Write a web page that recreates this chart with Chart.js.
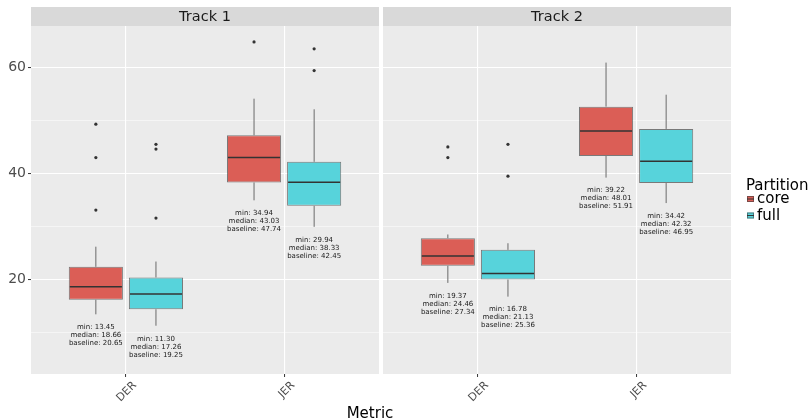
<!DOCTYPE html>
<html>
<head>
<meta charset="utf-8">
<script src="https://cdn.jsdelivr.net/npm/chart.js@4.4.1/dist/chart.umd.min.js"></script>
<style>
  body { margin: 0; background: #fff; }
  #wrap { position: relative; width: 810px; height: 420px; background: #fff; }
  canvas { position: absolute; top: 0; }
  #xtitle { position: absolute; left: 0; width: 740px; top: 404px; line-height: 18px;
            text-align: center; font: 15px "DejaVu Sans"; color: #000; }
</style>
</head>
<body>
<div id="wrap">
  <canvas id="track1" width="379" height="420" style="left:0"></canvas>
  <canvas id="track2" width="427" height="420" style="left:383px"></canvas>
  <div id="xtitle">Metric</div>
</div>
<script>
const categories = ['DER', 'JER'];
const partitions = ['core', 'full'];
const partitionColors = ['#DB5E56', '#57D3DB'];
const trackNames = ['Track 1', 'Track 2'];
const yTicks = [10, 20, 30, 40, 50, 60];
const yLabelled = [20, 40, 60];

// Track 1 - core
const t1CoreMin = [13.45, 34.94];
const t1CoreQ1 = [16.2, 38.3];
const t1CoreMedian = [18.66, 43.03];
const t1CoreQ3 = [22.4, 47.2];
const t1CoreMax = [26.2, 54.1];
const t1CoreBaseline = [20.65, 47.74];
const t1CoreOutliers = [[49.3, 43.0, 33.1], [64.8]];
// Track 1 - full
const t1FullMin = [11.30, 29.94];
const t1FullQ1 = [14.4, 33.9];
const t1FullMedian = [17.26, 38.33];
const t1FullQ3 = [20.4, 42.2];
const t1FullMax = [23.4, 52.1];
const t1FullBaseline = [19.25, 42.45];
const t1FullOutliers = [[45.5, 44.6, 31.6], [63.5, 59.4]];
// Track 2 - core
const t2CoreMin = [19.37, 39.22];
const t2CoreQ1 = [22.6, 43.3];
const t2CoreMedian = [24.46, 48.01];
const t2CoreQ3 = [27.8, 52.6];
const t2CoreMax = [28.5, 60.9];
const t2CoreBaseline = [27.34, 51.91];
const t2CoreOutliers = [[45.0, 43.0], []];
// Track 2 - full
const t2FullMin = [16.78, 34.42];
const t2FullQ1 = [20.0, 38.2];
const t2FullMedian = [21.13, 42.32];
const t2FullQ3 = [25.6, 48.4];
const t2FullMax = [26.85, 54.85];
const t2FullBaseline = [25.36, 46.95];
const t2FullOutliers = [[45.5, 39.5], []];

function stats(min, q1, med, q3, max, base, out) {
  return { min, q1, med, q3, max, base, out };
}
const trackStats = [
  [stats(t1CoreMin, t1CoreQ1, t1CoreMedian, t1CoreQ3, t1CoreMax, t1CoreBaseline, t1CoreOutliers),
   stats(t1FullMin, t1FullQ1, t1FullMedian, t1FullQ3, t1FullMax, t1FullBaseline, t1FullOutliers)],
  [stats(t2CoreMin, t2CoreQ1, t2CoreMedian, t2CoreQ3, t2CoreMax, t2CoreBaseline, t2CoreOutliers),
   stats(t2FullMin, t2FullQ1, t2FullMedian, t2FullQ3, t2FullMax, t2FullBaseline, t2FullOutliers)]
];

Chart.defaults.font.family = 'DejaVu Sans';
Chart.defaults.animation = false;

// grey panel + facet strip
const panelPlugin = {
  id: 'panel',
  beforeDraw(chart, args, opts) {
    const ctx = chart.ctx, a = chart.chartArea;
    ctx.save();
    ctx.fillStyle = '#EBEBEB';
    ctx.fillRect(a.left, a.top, a.right - a.left, a.bottom - a.top);
    ctx.fillStyle = '#D9D9D9';
    ctx.fillRect(a.left, 7, a.right - a.left, a.top - 7);
    ctx.fillStyle = '#1A1A1A';
    ctx.font = '14.5px "DejaVu Sans"';
    ctx.textAlign = 'center';
    ctx.textBaseline = 'middle';
    ctx.fillText(opts.title, (a.left + a.right) / 2, (7 + a.top) / 2 + 1);
    ctx.restore();
  }
};

// whiskers, medians, outliers and the min/median/baseline notes
const boxPlugin = {
  id: 'boxExtras',
  afterDatasetsDraw(chart, args, opts) {
    const ctx = chart.ctx, y = chart.scales.y;
    opts.stats.forEach((s, i) => {
      const meta = chart.getDatasetMeta(i);
      meta.data.forEach((bar, j) => {
        const x = bar.x, hw = bar.width / 2;
        ctx.save();
        ctx.strokeStyle = '#6A6A6A';
        ctx.lineWidth = 1;
        ctx.beginPath();
        ctx.moveTo(x, y.getPixelForValue(s.q3[j]));
        ctx.lineTo(x, y.getPixelForValue(s.max[j]));
        ctx.moveTo(x, y.getPixelForValue(s.q1[j]));
        ctx.lineTo(x, y.getPixelForValue(s.min[j]));
        ctx.stroke();

        const ym = y.getPixelForValue(s.med[j]);
        ctx.strokeStyle = '#333333';
        ctx.lineWidth = 1.5;
        ctx.beginPath();
        ctx.moveTo(x - hw + 1, ym);
        ctx.lineTo(x + hw - 1, ym);
        ctx.stroke();

        ctx.fillStyle = '#333333';
        s.out[j].forEach(v => {
          ctx.beginPath();
          ctx.arc(x, y.getPixelForValue(v), 1.6, 0, Math.PI * 2);
          ctx.fill();
        });

        ctx.fillStyle = '#1A1A1A';
        ctx.font = '7px "DejaVu Sans"';
        ctx.textAlign = 'center';
        ctx.textBaseline = 'middle';
        const y0 = y.getPixelForValue(s.min[j]) + 13;
        const lines = ['min: ' + s.min[j].toFixed(2),
                       'median: ' + s.med[j].toFixed(2),
                       'baseline: ' + s.base[j].toFixed(2)];
        lines.forEach((t, k) => ctx.fillText(t, x, y0 + 8 * k));
        ctx.restore();
      });
    });
  }
};

// ggplot-like legend on the right
const legendPlugin = {
  id: 'partitionLegend',
  afterDraw(chart, args, opts) {
    if (!opts.show) return;
    const ctx = chart.ctx, a = chart.chartArea;
    const x0 = a.right + 15, mid = (a.top + a.bottom) / 2;
    ctx.save();
    ctx.fillStyle = '#000';
    ctx.font = '15px "DejaVu Sans"';
    ctx.textAlign = 'left';
    ctx.textBaseline = 'alphabetic';
    ctx.fillText('Partition', x0, mid - 10);
    chart.data.datasets.forEach((ds, i) => {
      const yb = mid + 3 + i * 16.5;
      ctx.fillStyle = ds.backgroundColor;
      ctx.fillRect(x0 + 1, yb - 7, 7, 6);
      ctx.strokeStyle = 'rgba(60,60,60,0.6)';
      ctx.lineWidth = 1;
      ctx.strokeRect(x0 + 1.5, yb - 6.5, 6, 5);
      ctx.strokeStyle = '#333';
      ctx.beginPath();
      ctx.moveTo(x0 + 1, yb - 4);
      ctx.lineTo(x0 + 8, yb - 4);
      ctx.stroke();
      ctx.fillStyle = '#000';
      ctx.fillText(ds.label, x0 + 11, yb);
    });
    ctx.restore();
  }
};

function makeChart(id, t, showY, showLegend) {
  const s = trackStats[t];
  const isMajor = c => c.tick && yLabelled.includes(c.tick.value);
  return new Chart(document.getElementById(id), {
    type: 'bar',
    data: {
      datasets: partitions.map((p, i) => ({
        label: p,
        data: categories.map((c, j) => ({ x: j + 1, y: [s[i].q1[j], s[i].q3[j]] })),
        backgroundColor: partitionColors[i],
        borderColor: 'rgba(60,60,60,0.65)',
        borderWidth: 1,
        borderSkipped: false,
        categoryPercentage: 0.76,
        barPercentage: 0.9
      }))
    },
    options: {
      responsive: false,
      animation: false,
      layout: { padding: { top: 26, right: showLegend ? 79 : 0, left: 0, bottom: 0 } },
      plugins: {
        legend: { display: false },
        tooltip: { enabled: false },
        panel: { title: trackNames[t] },
        boxExtras: { stats: s },
        partitionLegend: { show: showLegend }
      },
      scales: {
        x: {
          type: 'linear',
          min: 0.4,
          max: 2.6,
          offset: false,
          afterBuildTicks: sc => { sc.ticks = categories.map((c, j) => ({ value: j + 1 })); },
          afterFit: sc => { sc.height = 46; },
          grid: { color: '#FFFFFF', lineWidth: 1.1, offset: false, drawTicks: true,
                  tickLength: 3, tickColor: '#333333', tickWidth: 1 },
          border: { display: false },
          ticks: {
            callback: (v, i) => categories[i],
            minRotation: 45, maxRotation: 45, autoSkip: false,
            labelOffset: 9,
            font: { size: 11 }, color: '#4D4D4D', padding: 2
          }
        },
        y: {
          min: 2.2,
          max: 67.8,
          afterBuildTicks: sc => { sc.ticks = yTicks.map(v => ({ value: v })); },
          afterFit: sc => { sc.width = showY ? 31 : 0; },
          grid: {
            color: '#FFFFFF',
            lineWidth: c => isMajor(c) ? 1.1 : 0.5,
            drawTicks: showY,
            tickLength: 3,
            tickWidth: 1,
            tickColor: c => isMajor(c) ? '#333333' : 'rgba(0,0,0,0)'
          },
          border: { display: false },
          ticks: {
            display: showY,
            callback: v => yLabelled.includes(v) ? String(v) : '',
            font: { size: 14 }, color: '#4D4D4D', padding: 2
          }
        }
      }
    },
    plugins: [panelPlugin, boxPlugin, legendPlugin]
  });
}

makeChart('track1', 0, true, false);
makeChart('track2', 1, false, true);
</script>
</body>
</html>
